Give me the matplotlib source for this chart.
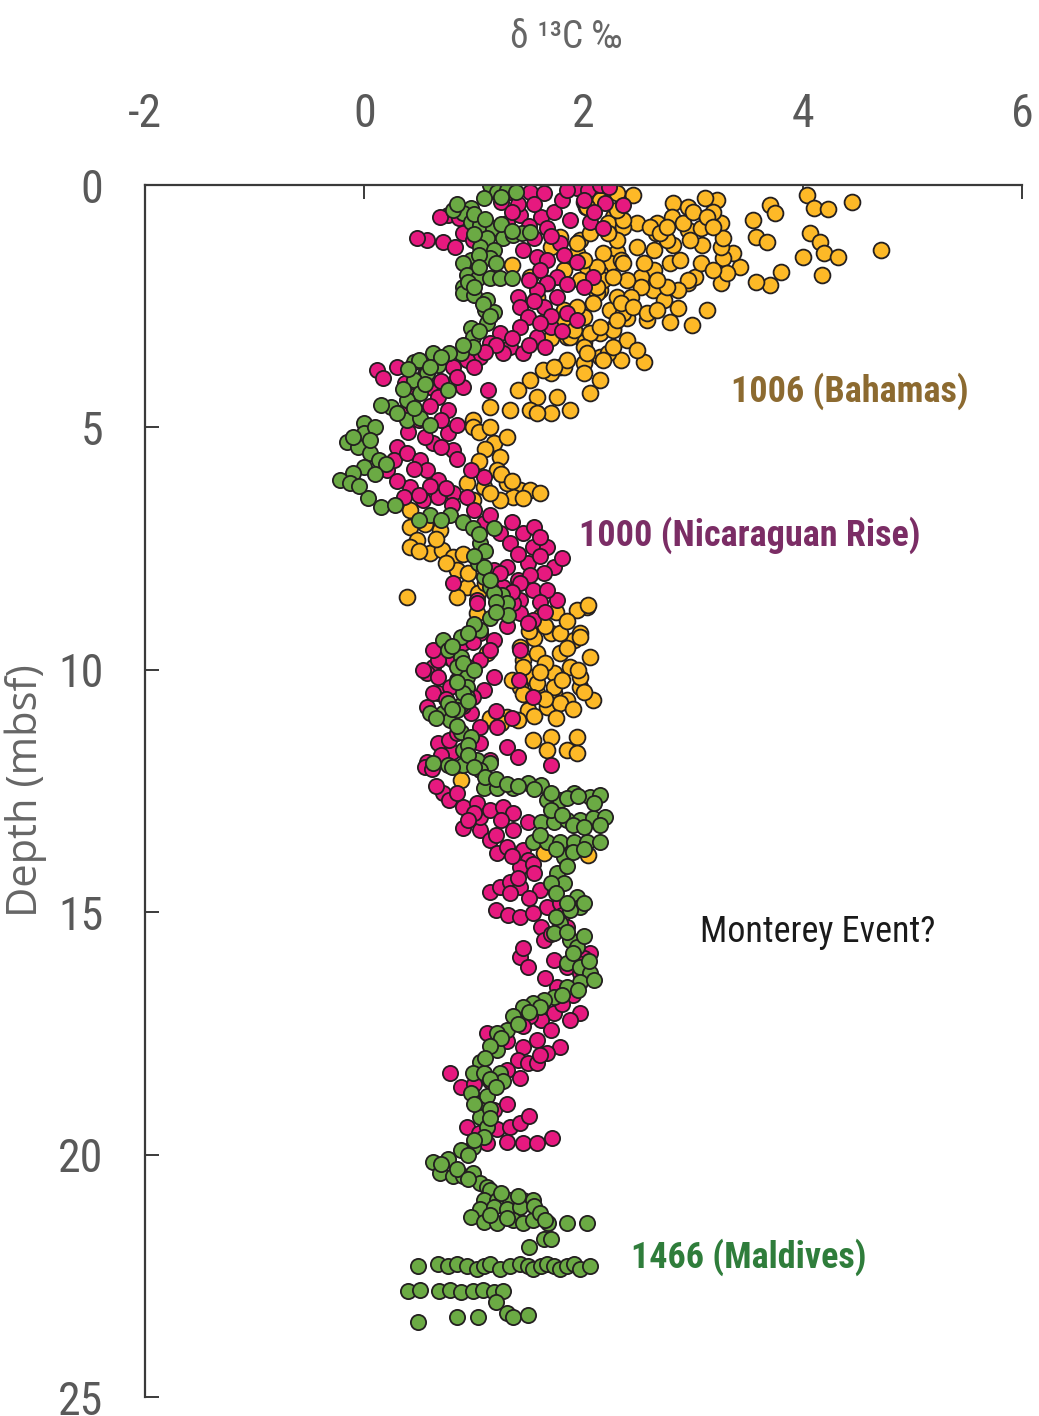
import matplotlib
matplotlib.use("Agg")
import matplotlib.pyplot as plt
from matplotlib import font_manager

# δ13C (per mil) and depth (mbsf), one pair of lists per site
bahamas_d13c = [4.45, 4.71, 4.04, 4.10, 4.23, 4.07, 4.16, 4.19, 4.32, 4.00, 4.18, 3.70, 3.75, 3.55, 3.57, 3.67,
                3.80, 3.70, 3.57, 3.43, 3.36, 3.27, 3.25, 3.31, 3.25, 3.25, 3.27, 3.22, 3.11, 3.18, 3.08, 3.13,
                2.99, 2.95, 3.02, 2.82, 2.95, 2.81, 2.67, 2.66, 2.82, 2.76, 2.95, 3.07, 2.79, 2.64, 2.52, 2.63,
                2.73, 2.86, 2.79, 2.58, 2.40, 2.27, 2.55, 2.34, 2.49, 2.49, 2.45, 2.31, 2.24, 2.15, 2.15, 2.24,
                2.15, 2.00, 1.85, 1.70, 1.97, 2.06, 2.00, 2.00, 2.15, 2.00, 1.79, 1.70, 1.51, 1.35, 2.02, 2.27,
                2.34, 2.18, 2.12, 2.31, 2.36, 2.27, 2.06, 1.88, 1.82, 2.00, 2.22, 2.15, 2.00, 1.82, 1.63, 1.51,
                1.40, 1.58, 1.76, 1.88, 1.70, 1.51, 1.33, 1.15, 0.99, 2.06, 1.58, 0.99, 1.18, 1.24, 1.21, 1.42,
                1.51, 1.36, 1.24, 0.99, 0.94, 1.30, 1.09, 0.42, 0.42, 0.48, 0.42, 0.60, 0.71, 0.69, 0.81, 0.85,
                0.94, 1.04, 0.39, 1.03, 1.12, 1.42, 1.45, 1.58, 1.70, 1.79, 1.91, 2.03, 1.97, 2.06, 1.88, 1.73,
                1.54, 1.42, 1.58, 1.73, 1.97, 2.09, 1.85, 1.67, 1.49, 1.30, 1.94, 2.04, 1.79, 1.97, 1.45, 1.58,
                1.73, 1.97, 1.79, 1.54, 1.70, 1.67, 1.85, 1.94, 1.94, 0.88, 1.40, 1.15, 1.25, 2.04, 1.64, 1.79,
                1.94, 2.03, 1.70, 1.82, 2.00, 1.67, 1.58, 1.82, 2.18, 2.31, 2.22, 2.36,
                2.61, 2.70, 2.91, 3.00, 3.13, 3.18, 3.07, 3.18, 2.95, 2.86, 2.76, 2.67, 2.52, 2.43, 2.34, 2.45,
                2.58, 2.67, 2.31, 2.15, 2.40, 2.49, 2.27, 2.18, 2.03, 1.85, 1.73, 2.36, 2.40, 2.27, 2.18, 2.12,
                2.31, 2.22, 2.36, 2.31, 2.15, 2.03, 1.94, 2.00, 1.97, 2.12, 2.09, 1.94, 1.82, 1.91, 1.67, 2.55,
                2.64, 2.88, 2.97, 2.76,
                1.60, 1.75, 1.85, 1.65, 1.55, 1.85, 1.65, 1.95, 1.80, 1.65, 1.90, 1.75, 1.55, 1.45, 1.50, 2.00,
                1.60, 1.35,
                1.05, 1.15, 1.30, 1.10, 1.05, 1.25, 1.35, 1.15, 1.45, 1.60,
                0.55, 0.65, 0.75, 0.90, 0.95, 1.10, 0.50, 0.85]
bahamas_depth = [0.35, 1.34, 0.20, 0.47, 0.50, 0.99, 1.17, 1.41, 1.48, 1.48, 1.85, 0.41, 0.58, 0.72, 1.07, 1.17,
                 1.79, 2.06, 2.00, 1.69, 1.41, 1.50, 2.02, 1.81, 1.28, 0.78, 1.09, 0.31, 0.27, 0.56, 1.24, 2.58,
                 2.89, 2.02, 1.90, 0.37, 0.45, 0.66, 0.78, 0.99, 1.24, 1.13, 0.93, 0.89, 1.61, 1.75, 1.90, 2.16,
                 2.37, 2.54, 2.82, 2.78, 2.74, 2.95, 3.65, 3.61, 1.28, 0.78, 0.21, 1.38, 1.61, 1.81, 2.16, 2.58,
                 3.05, 3.24, 3.13, 3.16, 1.13, 0.99, 0.35, 2.72, 3.55, 3.67, 3.75, 3.88, 1.90, 1.65, 0.45, 0.66,
                 1.55, 1.96, 2.23, 2.31, 2.64, 2.99, 3.05, 3.13, 2.85, 3.34, 3.46, 4.02, 3.88, 3.75, 3.81, 4.02,
                 4.23, 4.37, 4.37, 4.64, 4.70, 4.64, 4.64, 4.58, 4.85, 4.29, 4.70, 4.99, 5.32, 5.61, 5.88, 6.29,
                 6.29, 6.43, 6.50, 6.50, 6.14, 6.14, 6.23, 6.70, 7.05, 7.32, 7.46, 7.59, 7.53, 7.11, 7.67, 7.94,
                 8.29, 8.41, 8.50, 8.82, 9.65, 9.53, 9.79, 9.65, 9.24, 9.65, 9.38, 8.70, 9.24, 9.73, 9.94, 10.06,
                 10.14, 10.35, 10.47, 10.47, 10.35, 10.62, 10.62, 10.76, 10.82, 10.97, 8.76, 8.66, 9.24, 9.32, 9.94, 10.27,
                 10.35, 10.14, 10.68, 11.44, 11.38, 11.65, 11.65, 11.38, 11.71, 12.27, 11.03, 11.00, 11.10, 13.81, 13.77, 1.07,
                 1.41, 1.69, 1.28, 1.75, 2.02, 2.02, 2.31, 2.58, 0.25, 0.17, 0.78, 0.87,
                 0.87, 0.99, 0.78, 0.56, 0.66, 0.87, 1.61, 1.75, 1.96, 2.16, 2.10, 1.96, 2.10, 2.31, 2.43, 2.52,
                 2.64, 2.58, 2.78, 2.93, 3.20, 3.40, 3.34, 3.61, 3.46, 3.61, 3.75, 1.61, 1.96, 1.90, 1.41, 1.69,
                 1.13, 0.99, 0.72, 0.52, 0.31, 0.45, 1.20, 1.55, 1.96, 2.10, 2.43, 2.52, 2.78, 2.99, 2.85, 1.61,
                 1.34, 1.55, 1.13, 0.87,
                 8.90, 8.80, 9.00, 9.10, 9.35, 9.55, 9.85, 10.00, 10.20, 10.60, 10.80, 11.00, 10.95, 10.50, 9.20, 10.45,
                 10.05, 10.20,
                 5.10, 5.00, 5.20, 5.45, 5.70, 5.95, 6.10, 6.35, 6.45, 6.35,
                 7.00, 7.30, 7.80, 7.60, 8.00, 8.20, 7.55, 8.50]

nicaragua_d13c = [0.57, 0.72, 0.83, 0.76, 0.86, 0.90, 0.99, 1.30, 1.45, 1.42, 1.51, 1.64, 1.61, 1.73, 1.88, 1.67,
                  1.79, 1.58, 1.67, 1.82, 1.94, 2.04, 2.15, 2.23, 2.20, 2.36, 2.06, 2.18, 1.94, 2.09, 2.00, 1.76,
                  1.67, 1.58, 1.40, 1.42, 1.49, 1.64, 1.76, 1.85, 1.94, 1.70, 1.58, 1.42, 1.24, 1.33, 1.45, 1.15,
                  1.06, 0.94, 1.27, 0.81, 0.90, 1.13, 0.12, 0.17, 0.30, 0.37, 0.33, 0.60, 0.76, 0.67, 0.30, 0.21,
                  0.27, 0.39, 0.51, 0.57, 0.67, 0.76, 0.63, 0.81, 0.42, 0.36, 0.54, 0.67, 0.81, 0.94, 1.09, 0.97,
                  1.09, 1.24, 1.33, 1.45, 1.54, 1.67, 1.73, 1.64, 1.49, 1.30, 1.18, 1.40, 1.27, 1.54, 1.42, 1.76,
                  1.54, 1.42, 1.30, 0.81, 1.03, 1.06, 0.90, 0.76, 0.63, 0.57, 0.67, 0.81, 1.18, 1.09, 0.99, 0.57,
                  0.67, 1.42, 1.54, 0.54, 0.67, 0.63, 0.78, 1.06, 0.99, 0.63, 0.76, 0.97, 1.06, 1.21, 0.67, 0.80,
                  1.06, 1.30, 1.40, 0.57, 1.70, 1.41, 1.49, 1.36, 1.51, 1.67, 1.42, 1.24, 1.18, 1.03, 0.77, 0.72,
                  0.77, 0.90, 0.90, 1.06, 1.15, 1.21, 1.06, 1.03, 1.15, 1.27, 1.36, 1.36, 1.30, 1.45, 1.49, 1.42,
                  1.54, 1.49, 1.15, 1.24, 1.33, 1.42, 1.33, 1.20, 1.31, 1.42, 1.54, 1.67, 1.79, 1.61, 1.64, 1.42,
                  1.49, 1.45, 1.70, 2.06, 1.73, 1.85, 1.97, 1.76, 1.97, 1.88, 1.73, 1.61, 1.51, 1.70, 1.12, 1.45,
                  1.58, 1.79, 1.40, 1.49, 1.58, 1.67, 1.42, 0.78, 0.88, 1.15, 1.18, 0.94, 1.21, 1.33, 1.42, 1.30,
                  1.45, 1.58, 1.71, 1.12, 0.48, 1.33, 0.69, 0.55,
                  1.25, 1.40, 1.55, 1.80, 1.85, 2.00, 2.10, 1.70, 1.55, 1.50, 1.35, 1.60, 1.50, 1.85, 1.55, 1.70,
                  1.60, 1.80, 1.35, 1.50, 1.65, 1.20, 1.10, 1.00, 0.85, 0.70, 0.55, 0.45, 0.60, 0.50, 0.70, 0.85,
                  0.40, 0.55, 0.70, 0.85, 0.45, 0.60, 0.75, 0.30, 0.50, 0.80, 1.00, 1.15, 1.35, 1.55, 1.60, 1.40,
                  1.60, 1.80, 1.35, 1.60, 1.65, 1.30, 1.15, 0.95, 0.85, 0.75, 0.90, 1.20, 1.35, 0.85, 0.70, 0.95,
                  1.15, 0.62,
                  0.65, 0.85, 1.00, 0.95, 1.25, 1.20, 1.35, 1.55, 1.40, 1.60, 1.50, 1.80, 1.85, 1.90, 2.00, 1.95,
                  1.65, 1.90, 1.80, 1.45, 1.30, 1.60, 1.30, 1.00, 1.10, 1.30, 1.50, 1.05]
nicaragua_depth = [1.13, 1.17, 1.28, 0.62, 0.68, 0.99, 1.13, 0.78, 1.34, 0.62, 0.14, 0.17, 0.66, 0.56, 0.72, 0.89,
                   1.20, 1.48, 1.55, 1.44, 0.06, 0.10, 0.00, 0.04, 0.37, 0.41, 0.76, 0.89, 1.59, 1.90, 2.10, 1.90,
                   2.02, 2.16, 2.31, 2.52, 2.72, 2.52, 2.31, 2.64, 2.78, 2.93, 3.13, 2.93, 3.05, 3.34, 3.46, 3.26,
                   3.55, 3.61, 3.46, 3.75, 4.16, 4.23, 3.81, 3.98, 3.75, 4.08, 4.70, 4.16, 4.64, 4.37, 5.40, 5.88,
                   5.67, 5.53, 5.67, 5.88, 6.08, 5.11, 5.32, 5.46, 6.23, 6.43, 6.50, 6.43, 6.36, 6.43, 6.02, 5.88,
                   6.97, 7.18, 7.38, 7.18, 7.46, 7.46, 7.88, 8.00, 7.80, 7.88, 7.94, 8.14, 8.29, 8.35, 8.56, 8.56,
                   8.97, 8.82, 8.70, 8.21, 8.56, 9.24, 9.44, 9.73, 9.94, 10.06, 10.14, 9.79, 10.14, 10.41, 10.56, 10.76,
                   10.47, 9.59, 10.56, 10.00, 9.79, 9.59, 10.35, 9.79, 9.42, 10.47, 10.87, 10.89, 11.17, 11.17, 11.51, 11.69,
                   11.51, 11.59, 11.79, 11.90, 11.96, 10.21, 9.03, 8.62, 8.04, 8.35, 8.21, 8.00, 9.38, 8.62, 11.44, 12.54,
                   12.68, 12.82, 13.26, 13.30, 13.51, 13.77, 13.03, 12.74, 12.89, 12.82, 12.95, 13.30, 13.65, 13.71, 13.92, 14.06,
                   14.00, 13.13, 14.58, 14.47, 14.37, 14.47, 14.60, 14.95, 15.05, 15.09, 15.01, 14.89, 14.80, 15.30, 15.57, 15.92,
                   16.12, 15.73, 15.44, 15.84, 15.98, 16.12, 16.25, 16.54, 17.07, 17.22, 17.07, 17.22, 17.15, 17.42, 17.49, 17.77,
                   17.63, 17.77, 18.04, 18.10, 18.10, 17.90, 18.41, 18.31, 18.60, 18.49, 19.07, 19.42, 19.48, 19.42, 19.34, 19.73,
                   19.75, 19.75, 19.65, 19.75, 1.09, 0.14, 0.66, 12.00,
                   0.35, 0.40, 0.40, 0.30, 0.10, 0.30, 0.55, 1.05, 1.10, 0.85, 0.55, 1.75, 1.95, 2.05, 2.40, 2.70,
                   2.85, 3.00, 3.15, 3.30, 3.35, 3.30, 3.45, 3.75, 3.95, 4.05, 3.90, 4.35, 4.55, 4.85, 4.85, 4.95,
                   5.10, 5.20, 5.40, 5.65, 5.85, 6.20, 6.25, 6.10, 6.40, 6.60, 6.70, 6.80, 6.95, 7.05, 7.25, 7.60,
                   7.65, 7.70, 8.40, 8.60, 8.80, 9.10, 9.60, 9.95, 10.20, 10.60, 10.75, 10.85, 11.00, 11.30, 11.75, 11.75,
                   11.85, 12.05,
                   12.40, 12.55, 12.95, 13.10, 13.10, 13.40, 13.85, 14.20, 14.30, 14.55, 14.70, 15.05, 15.30, 15.60, 15.95, 16.05,
                   16.35, 16.70, 16.90, 17.35, 17.65, 17.95, 18.25, 18.55, 18.90, 18.95, 19.20, 19.55]

maldives_d13c = [1.15, 1.21, 1.30, 1.38, 1.09, 0.97, 0.90, 0.97, 1.06, 1.17, 1.27, 1.36, 1.44, 1.51, 1.12, 1.06,
                 1.18, 1.15, 0.97, 0.90, 0.94, 1.04, 1.15, 1.24, 1.35, 0.90, 0.90, 1.00, 1.12, 1.10, 1.18, 1.12,
                 0.97, 0.99, 0.99, 0.88, 0.77, 0.63, 0.45, 0.67, 0.57, 0.45, 0.51, 0.39, 0.24, 0.15, 0.39, 0.51,
                 0.76, 0.00, 0.00, -0.16, -0.06, 0.05, 0.13, 0.00, -0.10, -0.22, -0.13, 0.03, 0.15, 0.28, 0.60, 0.78,
                 0.90, 0.99, 1.18, 1.06, 1.04, 1.09, 1.15, 1.26, 1.30, 1.31, 1.15, 1.06, 0.88, 0.72, 0.76, 0.88,
                 0.85, 0.94, 0.94, 0.94, 0.88, 0.72, 0.60, 0.90, 0.76, 0.78, 0.88, 0.90, 1.03, 0.76, 0.63, 1.15,
                 1.09, 1.18, 0.85, 0.97, 0.90, 1.06, 1.09, 1.21, 1.36, 1.49, 1.61, 1.67, 1.79, 1.91, 2.06, 2.15,
                 1.61, 1.73, 1.85, 1.97, 2.09, 2.20, 1.54, 1.67, 1.79, 1.91, 2.03, 2.15, 1.82, 1.76, 1.82, 1.94,
                 1.97, 1.88, 1.79, 1.73, 1.88, 1.94, 1.85, 1.97, 2.06, 1.97, 1.85, 1.73, 1.64, 1.54, 1.45, 1.36,
                 1.30, 1.21, 1.21, 1.06, 0.99, 1.09, 1.24, 1.27, 0.97, 1.06, 1.12, 1.06, 1.12, 1.09, 0.99, 0.88,
                 0.76, 0.63, 0.69, 0.81, 0.90, 0.99, 1.06, 1.12, 1.15, 1.09, 1.21, 1.33, 1.45, 1.54, 1.06, 1.18,
                 1.30, 1.42, 0.97, 1.09, 1.21, 1.36, 1.45, 1.54, 1.68, 1.85, 2.03, 1.50, 1.64, 1.70,
                 0.49, 0.67, 0.76, 0.85, 0.94, 1.03, 1.09, 1.15, 1.24, 1.33, 1.42, 1.49, 1.54, 1.61, 1.67, 1.73,
                 1.79, 1.85, 1.91, 1.97, 2.06,
                 0.40, 0.51, 0.68, 0.78, 0.88, 0.99, 1.08, 1.18, 1.27,
                 1.20, 1.30, 1.36, 1.49, 0.49, 0.85, 1.04, 0.81, 0.85,
                 1.25, 1.00, 1.10, 1.25, 1.35, 1.00, 1.05, 1.20, 1.05, 0.95, 1.00, 1.08, 1.15, 1.05, 0.90, 0.70,
                 0.50, 0.60, 0.40, 0.55, 0.35, 0.45, 0.30, 0.60, 0.10, -0.10, 0.05, 0.20, 0.10, -0.05, 0.50, 0.70,
                 1.05, 1.10, 1.00, 1.15, 1.20, 1.20, 1.00, 0.95, 0.80, 0.90, 1.00, 0.85, 0.95, 0.80, 0.65, 0.85,
                 0.95, 0.95, 0.80, 1.00, 1.10, 1.20, 1.30, 1.40, 1.55, 1.70, 1.85, 1.95, 2.10, 1.70, 1.80, 1.90,
                 2.00, 2.15, 1.60, 1.75, 1.90, 2.00, 1.85, 1.70, 1.75, 1.85, 2.00, 1.75, 1.85, 2.00, 1.90, 2.05,
                 2.10, 1.95, 1.80, 1.60, 1.50, 1.40, 1.25, 1.15, 1.10, 1.15, 1.20, 1.00, 1.15, 1.15, 1.00, 0.95,
                 0.85, 0.70, 0.95, 1.25, 1.40, 1.55, 1.60, 1.30, 1.15, 1.65]
maldives_depth = [0.00, 0.14, 0.10, 0.14, 0.27, 0.47, 0.58, 0.76, 0.82, 0.89, 1.09, 1.03, 0.99, 0.97, 1.09, 1.28,
                  1.34, 1.50, 1.55, 1.61, 1.86, 1.92, 1.92, 1.92, 1.92, 2.10, 2.23, 2.27, 2.37, 2.58, 2.62, 2.85,
                  2.95, 3.13, 3.34, 3.46, 3.46, 3.46, 3.65, 3.71, 3.88, 4.02, 4.29, 4.43, 4.58, 4.54, 4.85, 4.80,
                  4.23, 4.91, 5.11, 5.30, 5.40, 5.53, 5.67, 5.81, 5.94, 6.08, 6.14, 6.45, 6.64, 6.60, 6.80, 6.80,
                  6.95, 7.07, 7.07, 7.38, 7.80, 8.08, 8.29, 8.45, 8.62, 8.87, 8.93, 9.18, 9.32, 9.38, 9.59, 9.73,
                  9.94, 10.14, 10.35, 10.56, 10.72, 10.89, 10.89, 10.47, 10.68, 11.03, 11.28, 11.65, 11.86, 11.96, 11.92, 11.92,
                  7.88, 8.41, 10.82, 11.38, 11.96, 12.06, 12.43, 12.43, 12.43, 12.33, 12.37, 12.68, 12.68, 12.54, 12.62, 12.58,
                  13.13, 13.13, 13.09, 13.09, 13.05, 13.03, 13.55, 13.55, 13.55, 13.55, 13.55, 13.55, 13.86, 14.19, 14.39, 14.68,
                  14.89, 14.95, 15.22, 15.42, 15.57, 15.71, 16.04, 16.12, 16.25, 16.43, 16.54, 16.74, 16.80, 16.87, 16.95, 17.15,
                  17.42, 17.49, 17.84, 18.08, 18.31, 18.31, 18.31, 18.49, 18.72, 18.93, 18.80, 19.22, 19.42, 19.63, 19.84, 19.90,
                  20.10, 20.16, 20.37, 20.45, 20.45, 20.37, 20.58, 20.66, 20.72, 20.93, 20.93, 20.93, 20.93, 20.93, 21.13, 21.09,
                  21.13, 21.09, 21.28, 21.38, 21.40, 21.34, 21.40, 21.34, 21.40, 21.40, 21.40, 21.90, 21.75, 21.75,
                  22.30, 22.25, 22.30, 22.25, 22.30, 22.35, 22.30, 22.25, 22.35, 22.30, 22.25, 22.30, 22.35, 22.30, 22.25, 22.30,
                  22.35, 22.30, 22.25, 22.35, 22.30,
                  22.82, 22.80, 22.82, 22.80, 22.84, 22.82, 22.80, 22.84, 22.82,
                  23.05, 23.26, 23.34, 23.30, 23.46, 23.34, 23.34, 0.52, 0.40,
                  0.25, 0.60, 0.70, 0.80, 0.95, 1.00, 1.45, 1.60, 1.70, 2.00, 2.10, 2.45, 2.70, 3.00, 3.30, 3.55,
                  3.60, 3.75, 3.80, 4.10, 4.20, 4.60, 4.70, 4.95, 5.00, 5.20, 5.25, 5.75, 5.95, 6.20, 6.90, 6.90,
                  7.20, 7.55, 7.65, 8.15, 8.60, 8.80, 9.05, 9.25, 9.50, 9.85, 10.00, 10.25, 10.65, 10.80, 11.00, 11.15,
                  11.55, 11.75, 12.00, 12.00, 12.20, 12.25, 12.35, 12.40, 12.45, 12.55, 12.65, 12.60, 12.75, 12.90, 13.00, 13.20,
                  13.25, 13.20, 13.40, 13.70, 13.75, 13.70, 14.05, 14.40, 14.60, 14.80, 14.80, 15.10, 15.40, 15.50, 15.85, 16.00,
                  16.40, 16.60, 16.70, 16.95, 17.05, 17.30, 17.60, 17.75, 18.00, 18.45, 18.60, 18.95, 19.05, 19.25, 19.70, 20.00,
                  20.30, 20.20, 20.50, 20.80, 20.85, 21.05, 21.20, 21.30, 21.25, 21.35]

x_ticks = [-2, 0, 2, 4, 6]
y_ticks = [0, 5, 10, 15, 20, 25]

site_labels = ["1006 (Bahamas)", "1000 (Nicaraguan Rise)", "1466 (Maldives)"]

installed = sorted({f.name for f in font_manager.fontManager.ttflist})


def pick_font(names, fallback, any_narrow=False):
    for n in names:
        if n in installed:
            return n
    if any_narrow:
        for n in installed:
            if "Narrow" in n or "Condensed" in n:
                return n
    return fallback


plt.rcParams["axes.unicode_minus"] = False
narrow = pick_font(["Liberation Sans Narrow", "Roboto Condensed", "Open Sans Condensed",
                    "Noto Sans Condensed"], "Liberation Sans", any_narrow=True)
plain = pick_font(["Open Sans", "Noto Sans"], "DejaVu Sans")

fig = plt.figure(figsize=(10.39, 14.16), dpi=100)
ax = fig.add_axes([0.1396, 0.0134, 0.844, 0.8559])

edge = "#231f20"
ax.scatter(bahamas_d13c, bahamas_depth, s=130, c="#fdb927", edgecolors=edge, linewidths=1.3, zorder=2)
ax.scatter(nicaragua_d13c, nicaragua_depth, s=120, c="#e6197f", edgecolors=edge, linewidths=1.3, zorder=3)
ax.scatter(maldives_d13c, maldives_depth, s=120, c="#6baa44", edgecolors=edge, linewidths=1.3, zorder=4)

ax.set_xlim(-2, 6)
ax.set_ylim(25, 0)
ax.xaxis.tick_top()
ax.set_xticks(x_ticks)
ax.set_yticks(y_ticks)
for sp in ["right", "bottom"]:
    ax.spines[sp].set_visible(False)
for sp in ["left", "top"]:
    ax.spines[sp].set_color("#3a3a3a")
    ax.spines[sp].set_linewidth(1.6)
ax.spines["top"].set_zorder(5)

ax.tick_params(axis="x", direction="in", length=10, width=1.4, color="#3a3a3a", pad=35,
               labelsize=33, labelcolor="#595959")
ax.tick_params(axis="y", direction="in", length=10, width=1.4, color="#3a3a3a", pad=30,
               labelsize=33, labelcolor="#595959")
for lab in ax.get_xticklabels() + ax.get_yticklabels():
    lab.set_fontfamily(narrow)

ax.set_ylabel("Depth (mbsf)", fontsize=30, color="#666666", family=plain)
ax.yaxis.set_label_coords(-0.112, 0.5)
ax.text(0.48, 1.122, "δ ¹³C ‰", transform=ax.transAxes, ha="center", va="center",
        fontsize=27, color="#666666", family=narrow)

ax.text(4.43, 4.25, site_labels[0], ha="center", va="center", fontsize=26, fontweight="bold",
        color="#8c6a30", family=narrow)
ax.text(3.52, 7.22, site_labels[1], ha="center", va="center", fontsize=26, fontweight="bold",
        color="#7b2d65", family=narrow)
ax.text(4.14, 15.4, "Monterey Event?", ha="center", va="center", fontsize=26,
        color="#1a1a1a", family=narrow)
ax.text(3.51, 22.12, site_labels[2], ha="center", va="center", fontsize=26, fontweight="bold",
        color="#2f7d3b", family=narrow)

fig.savefig("out.png", dpi=100)
